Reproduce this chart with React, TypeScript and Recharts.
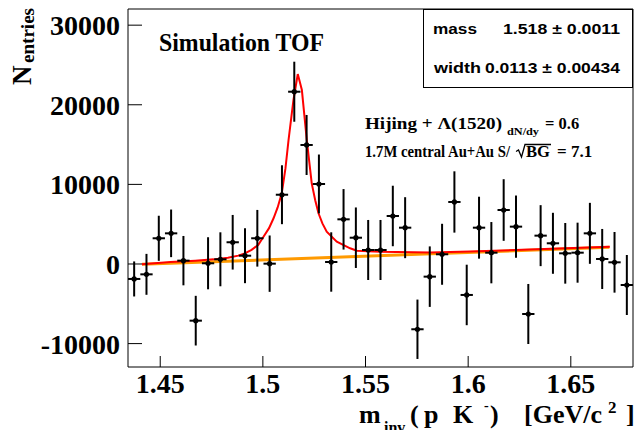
import { ComposedChart, Scatter, Line, XAxis, YAxis, ErrorBar, ReferenceArea } from 'recharts';

// histogram bin centres (GeV/c^2), bin width 0.006
const binCenters = [
  1.4373, 1.4433, 1.4493, 1.4553, 1.4613, 1.4673, 1.4733, 1.4793, 1.4853, 1.4913,
  1.4973, 1.5033, 1.5093, 1.5153, 1.5213, 1.5273, 1.5333, 1.5393, 1.5453, 1.5513,
  1.5573, 1.5633, 1.5693, 1.5753, 1.5813, 1.5873, 1.5933, 1.5993, 1.6053, 1.6113,
  1.6173, 1.6233, 1.6293, 1.6353, 1.6413, 1.6473, 1.6533, 1.6593, 1.6653, 1.6713,
  1.6773,
];
const entries = [
  -1880, -1300, 3230, 3850, 420, -7120, 90, 590, 2730, 1040,
  3230, 40, 8700, 21640, 14950, 10050, 250, 5610, 3300, 1760,
  1760, 6030, 4560, -8200, -1590, 1220, 7790, -3890, 4560, 1420,
  6780, 4690, -6280, 3560, 2600, 1340, 1420, 3850, 630, 210,
  -2640,
];
const entryErrors = [
  2200, 2570, 2830, 2990, 3100, 3120, 3270, 3390, 3430, 3450,
  3560, 3540, 3700, 3770, 3770, 3700, 3730, 3800, 3800, 3770,
  3770, 3800, 3830, 3730, 3800, 3830, 3850, 3800, 3890, 3850,
  3870, 3910, 3770, 3830, 3830, 3810, 3770, 3830, 3770, 3810,
  3770,
];
const halfBin = 0.003;

// fit: Breit-Wigner + linear background
const fitX = [
  1.4411, 1.455, 1.467, 1.476, 1.483, 1.488, 1.4912, 1.4945, 1.4977, 1.5003,
  1.503, 1.5052, 1.5072, 1.5092, 1.511, 1.5125, 1.5149, 1.517, 1.519, 1.5214,
  1.5238, 1.5255, 1.5271, 1.529, 1.5311, 1.536, 1.5425, 1.5458, 1.5571, 1.5815,
  1.601, 1.63, 1.669,
];
const fitY = [
  -40, 250, 415, 580, 790, 1050, 1340, 1780, 2390, 3430,
  4500, 5740, 7100, 8880, 12000, 15570, 20600, 23860, 21850, 15570,
  10130, 8000, 6370, 5100, 4060, 2800, 1970, 1670, 1550, 1450,
  1560, 1830, 2170,
];
// background line
const bgX = [1.4411, 1.6688];
const bgY = [-40, 2100];

const xTicks = [1.45, 1.5, 1.55, 1.6, 1.65];
const yTicks = [-10000, 0, 10000, 20000, 30000];

const xDomain: [number, number] = [1.4343, 1.6803];
const yDomain: [number, number] = [-12940, 32030];

const points = binCenters.map((x, i) => ({ x, y: entries[i], ey: entryErrors[i], ex: halfBin }));
const fitData = fitX.map((x, i) => ({ x, y: fitY[i] }));
const bgData = bgX.map((x, i) => ({ x, y: bgY[i] }));

const serif = '"Liberation Serif", "Times New Roman", serif';
const sans = '"Liberation Sans", Arial, sans-serif';

const XTick = (props: any) => {
  const { x, y, payload } = props;
  return (
    <g>
      <line x1={x} y1={y} x2={x} y2={y - 11} stroke="#000" strokeWidth={1} />
      <text x={x} y={y + 26} textAnchor="middle" fontFamily={serif} fontWeight="bold" fontSize={28} fill="#000">
        {String(payload.value)}
      </text>
    </g>
  );
};

const YTick = (props: any) => {
  const { x, y, payload } = props;
  return (
    <g>
      <line x1={x} y1={y} x2={x + 14} y2={y} stroke="#000" strokeWidth={1} />
      <text x={x - 8} y={y + 10} textAnchor="end" fontFamily={serif} fontWeight="bold" fontSize={28} fill="#000">
        {String(payload.value)}
      </text>
    </g>
  );
};

const Dot = (props: any) => <circle cx={props.cx} cy={props.cy} r={2.6} fill="#000" />;

export default function App() {
  return (
    <div style={{ position: 'fixed', left: 0, top: 0, width: 636, height: 430, background: '#fff' }}>
      <ComposedChart width={636} height={430} margin={{ top: 9, right: 3, left: 0, bottom: 0 }}>
        <XAxis
          dataKey="x"
          type="number"
          domain={xDomain}
          ticks={xTicks}
          interval={0}
          allowDataOverflow
          height={63}
          axisLine={false}
          tickLine={false}
          tickSize={0}
          tickMargin={0}
          tick={<XTick />}
        />
        <YAxis
          type="number"
          domain={yDomain}
          ticks={yTicks}
          interval={0}
          allowDataOverflow
          width={128}
          axisLine={false}
          tickLine={false}
          tickSize={0}
          tickMargin={0}
          tick={<YTick />}
        />
        <ReferenceArea x1={xDomain[0]} x2={xDomain[1]} y1={yDomain[0]} y2={yDomain[1]} fill="#fff" fillOpacity={0} stroke="#000" strokeWidth={1} />
        <Line data={bgData} dataKey="y" type="linear" stroke="#ff9a00" strokeWidth={3} dot={false} isAnimationActive={false} />
        <Line data={fitData} dataKey="y" type="linear" stroke="#ff0000" strokeWidth={2} dot={false} isAnimationActive={false} />
        <Scatter data={points} dataKey="y" shape={<Dot />} isAnimationActive={false}>
          <ErrorBar dataKey="ey" direction="y" width={0} stroke="#000" strokeWidth={2} />
          <ErrorBar dataKey="ex" direction="x" width={0} stroke="#000" strokeWidth={2} />
        </Scatter>
      </ComposedChart>

      <svg width={636} height={430} style={{ position: 'absolute', left: 0, top: 0, pointerEvents: 'none' }}>
        {/* stats box */}
        <rect x={423.5} y={9.5} width={209} height={78} fill="#fff" stroke="#000" strokeWidth={1} />
        <text x={433} y={33.5} fontFamily={sans} fontWeight="bold" fontSize={15} textLength={44} lengthAdjust="spacingAndGlyphs">mass</text>
        <text x={620} y={33.5} textAnchor="end" fontFamily={sans} fontWeight="bold" fontSize={15} textLength={117} lengthAdjust="spacingAndGlyphs">1.518 ± 0.0011</text>
        <text x={434} y={72.5} fontFamily={sans} fontWeight="bold" fontSize={15} textLength={47} lengthAdjust="spacingAndGlyphs">width</text>
        <text x={620} y={72.5} textAnchor="end" fontFamily={sans} fontWeight="bold" fontSize={15} textLength={135} lengthAdjust="spacingAndGlyphs">0.0113 ± 0.00434</text>

        <text x={159} y={50.5} fontFamily={serif} fontWeight="bold" fontSize={25} textLength={165} lengthAdjust="spacingAndGlyphs">Simulation TOF</text>

        <text x={365} y={129} fontFamily={serif} fontWeight="bold" fontSize={16.5} textLength={137} lengthAdjust="spacingAndGlyphs">Hijing + Λ(1520)</text>
        <text x={507} y={134.5} fontFamily={serif} fontWeight="bold" fontSize={11} textLength={32} lengthAdjust="spacingAndGlyphs">dN/dy</text>
        <text x={545} y={129} fontFamily={serif} fontWeight="bold" fontSize={16.5}>= 0.6</text>

        <text x={365} y={156.7} fontFamily={serif} fontWeight="bold" fontSize={16.5} textLength={145} lengthAdjust="spacingAndGlyphs">1.7M central Au+Au  S/</text>
        <polyline points="516,151.5 518.5,150 521.5,157 525,144.5 551,144.5" fill="none" stroke="#000" strokeWidth={1.3} />
        <text x={526} y={156.7} fontFamily={serif} fontWeight="bold" fontSize={16.5} textLength={24} lengthAdjust="spacingAndGlyphs">BG</text>
        <text x={557} y={156.7} fontFamily={serif} fontWeight="bold" fontSize={17}>= 7.1</text>

        {/* y title */}
        <text transform="translate(30.5,85) rotate(-90)" fontFamily={serif} fontWeight="bold" fontSize={27}>N</text>
        <text transform="translate(33.5,63) rotate(-90)" fontFamily={serif} fontWeight="bold" fontSize={19} textLength={55} lengthAdjust="spacingAndGlyphs">entries</text>

        {/* x title */}
        <text x={359} y={423} fontFamily={serif} fontWeight="bold" fontSize={26}>m</text>
        <text x={384} y={433} fontFamily={serif} fontWeight="bold" fontSize={16}>inv</text>
        <text x={410} y={423} fontFamily={serif} fontWeight="bold" fontSize={26}>(</text>
        <text x={424} y={423} fontFamily={serif} fontWeight="bold" fontSize={26}>p</text>
        <text x={453} y={423} fontFamily={serif} fontWeight="bold" fontSize={26}>K</text>
        <text x={484} y={410} fontFamily={serif} fontWeight="bold" fontSize={14}>-</text>
        <text x={490} y={423} fontFamily={serif} fontWeight="bold" fontSize={26}>)</text>
        <text x={524} y={423} fontFamily={serif} fontWeight="bold" fontSize={26}>[GeV/c</text>
        <text x={608} y={413} fontFamily={serif} fontWeight="bold" fontSize={17}>2</text>
        <text x={626} y={423} fontFamily={serif} fontWeight="bold" fontSize={26}>]</text>
      </svg>
    </div>
  );
}
